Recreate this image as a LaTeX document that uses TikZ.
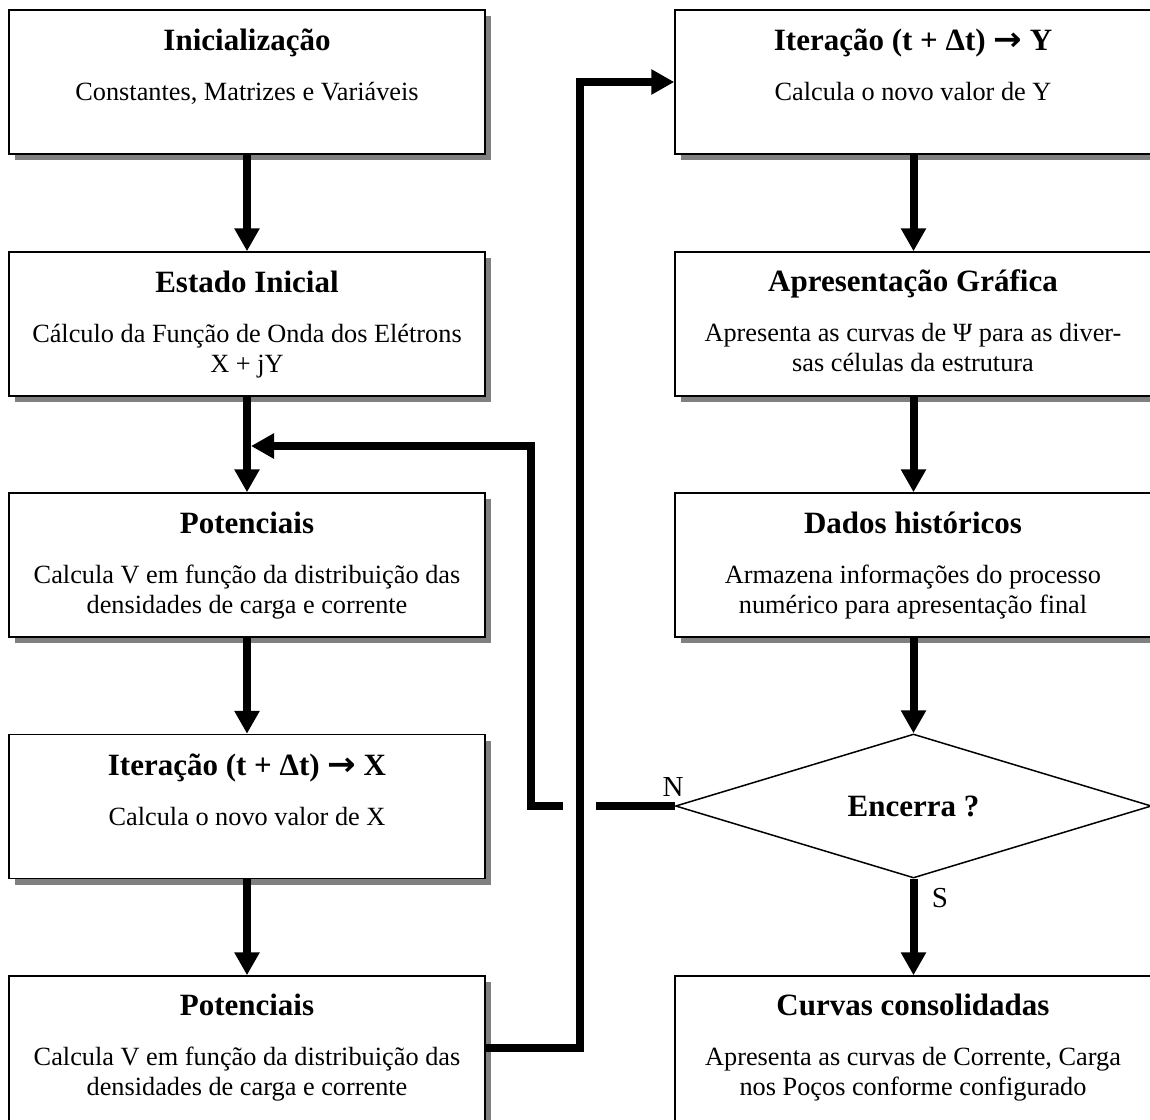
\documentclass[tikz,border=0pt]{standalone}
\usepackage{fontspec}
\usepackage{graphicx}
\setmainfont{Liberation Serif}
\newfontfamily\arrowfont{DejaVu Sans}
\usetikzlibrary{arrows.meta,shapes.geometric,shadows}
\definecolor{shadowgray}{HTML}{808080}
\newcommand{\rarr}{{\arrowfont\bfseries\scalebox{1.1}[1.05]{→}}}
\begin{document}
\begin{tikzpicture}[x=1pt,y=-1pt,
  box/.style={draw=black, line width=1.5pt, fill=white, inner sep=0pt,
    minimum width=476pt, minimum height=144pt,
    drop shadow={shadow xshift=6pt, shadow yshift=-6pt, fill=shadowgray, opacity=1}},
  rbox/.style={box, minimum width=477pt},
  tallbox/.style={minimum height=150pt},
  ttl/.style={anchor=base, inner sep=0pt, font=\fontsize{31}{37}\selectfont\bfseries},
  bdy/.style={anchor=base, inner sep=0pt, font=\fontsize{26.3}{30.5}\selectfont},
  lbl/.style={inner sep=0pt, font=\fontsize{29}{34}\selectfont},
  dia/.style={diamond, draw=black, line width=1.5pt, fill=white, aspect=3.3, inner sep=0pt,
    minimum width=476pt, minimum height=144pt, font=\fontsize{31}{37}\selectfont\bfseries},
  link/.style={line width=8pt, line join=miter, line cap=butt},
  conn/.style={link, -{Triangle[width=24pt,length=23pt]}}]
\useasboundingbox (0,0) rectangle (1150,1119);

% left column
\node[box] (L1) at (247,82) {};
\node[box] (L2) at (247,324) {};
\node[box] (L3) at (247,565) {};
\node[box] (L4) at (247,806.5) {};
\node[box, tallbox] (L5) at (247,1051) {};
% right column
\node[rbox] (R1) at (913.5,82) {};
\node[rbox] (R2) at (913.5,324) {};
\node[rbox] (R3) at (913.5,565) {};
\node[rbox, tallbox] (R5) at (913.5,1051) {};
\node[dia] (D) at (913.5,806) {Encerra ?};

% texts left
\node[ttl] (t1) at (247,50) {Inicialização};
\node[bdy] (b1) at (247,100) {Constantes, Matrizes e Variáveis};
\node[ttl] (t2) at (247,292) {Estado Inicial};
\node[bdy] (b2) at (247,342) {\begin{tabular}[t]{@{}c@{}}Cálculo da Função de Onda dos Elétrons\\ X + jY\end{tabular}};
\node[ttl] (t3) at (247,533) {Potenciais};
\node[bdy] (b3) at (247,583) {\begin{tabular}[t]{@{}c@{}}Calcula V em função da distribuição das\\ densidades de carga e corrente\end{tabular}};
\node[ttl] (t4) at (247,775) {Iteração (t + Δt) \rarr{} X};
\node[bdy] (b4) at (247,825) {Calcula o novo valor de X};
\node[ttl] (t5) at (247,1015) {Potenciais};
\node[bdy] (b5) at (247,1065) {\begin{tabular}[t]{@{}c@{}}Calcula V em função da distribuição das\\ densidades de carga e corrente\end{tabular}};
% texts right
\node[ttl] (t6) at (913,50) {Iteração (t + Δt) \rarr{} Y};
\node[bdy] (b6) at (913,100) {Calcula o novo valor de Y};
\node[ttl] (t7) at (913,291) {Apresentação Gráfica};
\node[bdy] (b7) at (913,341) {\begin{tabular}[t]{@{}c@{}}Apresenta as curvas de Ψ para as diver-\\ sas células da estrutura\end{tabular}};
\node[ttl] (t8) at (913,533) {Dados históricos};
\node[bdy] (b8) at (913,583) {\begin{tabular}[t]{@{}c@{}}Armazena informações do processo\\ numérico para apresentação final\end{tabular}};
\node[ttl] (t9) at (913,1015) {Curvas consolidadas};
\node[bdy] (b9) at (913,1065) {\begin{tabular}[t]{@{}c@{}}Apresenta as curvas de Corrente, Carga\\ nos Poços conforme configurado\end{tabular}};

% labels
\node[lbl] (nN) at (673,787) {N};
\node[lbl] (nS) at (940,898) {S};

% helper coordinates
\coordinate (yL5) at (0,1048);
\coordinate (vx) at (580,0);
\coordinate (fbx) at (531,0);
\coordinate (fby) at (0,446);
\coordinate (gapL) at (563,806);
\coordinate (gapR) at (596,806);
\coordinate (tipx) at ([xshift=4pt]L2.south);

% connectors left column
\draw[conn] (L1.south) -- (L2.north);
\draw[conn] (L2.south) -- (L3.north);
\draw[conn] (L3.south) -- (L4.north);
\draw[conn] (L4.south) -- (L5.north);
% from bottom Potenciais to Iteracao Y
\draw[conn] (L5.east |- yL5) -- (vx |- yL5) -- (vx |- R1.west) -- (R1.west);
% right column
\draw[conn] (R1.south) -- (R2.north);
\draw[conn] (R2.south) -- (R3.north);
\draw[conn] (R3.south) -- (D.north);
\draw[conn] (D.south) -- (R5.north);
% feedback loop N
\draw[link] (D.west) -- (gapR);
\draw[conn] (gapL) -- (fbx |- gapL) -- (fbx |- fby) -- (tipx |- fby);
\end{tikzpicture}
\end{document}
